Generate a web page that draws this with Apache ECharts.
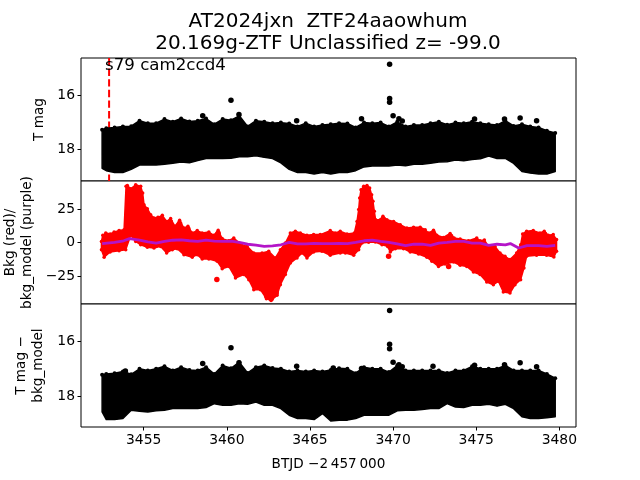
<!DOCTYPE html>
<html>
<head>
<meta charset="utf-8">
<script src="https://cdn.jsdelivr.net/npm/echarts@6/dist/echarts.min.js"></script>
<style>html,body{margin:0;background:#fff}#chart{width:640px;height:480px}</style>
</head>
<body>
<div id="chart"></div>
<script>
// columns of the light curve (BTJD - 2457000)
const times = [3452.5,3452.75,3453.25,3453.75,3454.25,3454.75,3455.25,3455.75,3456.25,3456.75,3457.25,3457.75,3458.25,3458.75,3459.25,3459.75,3460.25,3460.75,3461.25,3461.75,3462.25,3462.75,3463.25,3463.75,3464.25,3464.75,3465.25,3465.75,3466.25,3466.75,3467.25,3467.75,3468.25,3468.75,3469.25,3469.75,3470.25,3470.75,3471.25,3471.75,3472.25,3472.75,3473.25,3473.75,3474.25,3474.75,3475.25,3475.75,3476.25,3476.75,3477.25,3477.75,3478.25,3478.75,3479.25,3479.75]

// top panel: T mag
const magBright = [17.28,17.23,17.20,17.16,17.15,16.95,17.04,17.04,16.89,16.99,16.87,16.98,16.95,16.87,17.08,16.89,16.93,16.77,17.16,16.95,16.99,17.04,17.02,17.05,17.16,17.04,17.16,17.11,17.08,17.04,17.05,17.20,17.02,17.04,17.02,17.16,16.99,17.16,17.11,17.11,17.04,16.99,17.10,17.02,17.04,16.99,17.04,17.08,17.11,16.95,17.14,17.08,17.16,17.20,17.32,17.40]
const magFaint = [18.70,18.79,18.86,18.86,18.74,18.58,18.58,18.58,18.55,18.52,18.47,18.50,18.42,18.34,18.33,18.34,18.33,18.28,18.28,18.24,18.30,18.34,18.50,18.74,18.86,18.86,18.91,18.86,18.91,18.86,18.86,18.79,18.65,18.62,18.62,18.62,18.58,18.61,18.55,18.55,18.52,18.47,18.46,18.40,18.42,18.38,18.35,18.25,18.34,18.34,18.52,18.82,18.88,18.91,18.91,18.82]
const magOutT = [3460.25,3458.55,3460.73,3464.2,3469.79,3469.79,3469.79,3470.0,3470.35,3470.55,3477.64,3478.63,3476.7,3474.9,3468.1]
const magOutV = [16.20,16.77,16.72,16.95,14.87,16.13,16.27,16.77,16.88,16.96,16.85,16.95,16.89,16.89,16.88]

// middle panel: background (red) and background model (purple)
const bkgHighT = [3452.46,3452.54,3452.72,3452.98,3453.22,3453.52,3453.82,3453.94,3454.02,3454.22,3454.52,3454.82,3454.94,3455.02,3455.22,3455.42,3455.62,3455.86,3456.12,3456.38,3456.62,3456.88,3457.16,3457.42,3457.66,3457.92,3458.22,3458.52,3458.92,3459.22,3459.48,3459.72,3460.12,3460.42,3460.82,3461.22,3461.62,3462.12,3462.52,3462.92,3463.22,3463.52,3463.82,3464.12,3464.42,3464.82,3465.22,3465.62,3466.22,3466.52,3466.82,3467.23,3467.67,3467.83,3467.93,3467.99,3468.07,3468.23,3468.43,3468.59,3468.71,3468.79,3468.87,3468.95,3469.23,3469.39,3469.63,3470.03,3470.43,3470.83,3471.23,3471.63,3471.93,3472.13,3472.43,3472.63,3473.03,3473.43,3473.67,3474.03,3474.53,3475.03,3475.23,3475.49,3475.73,3476.13,3476.43,3476.73,3477.03,3477.43,3477.67,3477.79,3478.03,3478.43,3478.83,3479.09,3479.33,3479.63,3479.83]
const bkgHighV = [0.8,5.4,7.1,6.4,7.8,8.9,9.6,42,42.7,40.2,43.2,42,37,28.3,25.3,20.8,18.4,18.8,20.3,15.8,17.9,12.1,16.6,10.8,12.1,7.1,8.9,7.1,7.8,5.4,9.1,2.9,1.3,3.4,-1.1,-2.9,-7.8,-7.8,-6.6,-11.6,-5.4,-0.4,7.1,8.4,7.1,5.4,5.9,5.9,8.9,7.1,8.4,6.4,7.1,15.8,24.6,33.2,39.5,42,42.7,40.8,35.8,30.8,23.3,17,17,19.6,17,15.8,13.3,10.8,11.4,11.4,9.6,7.1,9.1,5.4,3.8,6.8,3.4,2.6,1.3,3.4,1.3,1.9,-2.9,-2.9,-7.8,-10.3,-12.8,-7.8,-1.7,6.4,8.4,8.9,7.1,8.4,5.4,5.9,2.2]
const bkgLowT = [3452.46,3452.62,3452.98,3453.52,3453.92,3454.22,3454.52,3454.82,3455.22,3455.62,3456.02,3456.38,3456.72,3457.02,3457.42,3457.92,3458.22,3458.52,3458.92,3459.42,3459.72,3460.12,3460.52,3461.02,3461.32,3461.62,3462.02,3462.38,3462.66,3463.02,3463.22,3463.52,3463.82,3464.22,3464.52,3464.82,3465.22,3465.72,3466.22,3466.82,3467.13,3467.63,3467.93,3468.13,3468.53,3468.93,3469.33,3469.67,3469.83,3470.13,3470.63,3471.03,3471.53,3472.03,3472.33,3472.73,3473.13,3473.63,3474.03,3474.43,3474.83,3475.23,3475.63,3476.03,3476.33,3476.63,3477.03,3477.33,3477.67,3477.87,3478.03,3478.63,3479.23,3479.67,3479.83]
const bkgLowV = [-5.4,-11,-7.1,-6.1,-5.4,5.4,0.8,-1.7,-3.6,-4.1,-2.9,-7.8,-5.4,-4.6,-9.1,-11,-9.1,-12.4,-12.4,-14,-19.6,-17.9,-26.5,-24,-27.8,-35.3,-35.3,-42,-43.4,-39.5,-31.6,-24,-15.4,-11.6,-7.8,-11.6,-7.1,-6.6,-9.6,-7.8,-7.8,-9.6,-5.4,-0.4,0.1,0.4,-1.7,-2.9,-7.1,-4.6,-4.6,-7.1,-8.6,-11,-14,-17.9,-16.1,-14.6,-17,-17.9,-22.1,-24,-29.5,-31.6,-29,-37,-37.8,-31.6,-27.8,-19.1,-10.3,-9.6,-9.6,-10.8,-6.6]
const bkgOutT = [3459.4,3469.73,3473.34,3462.4,3462.67,3462.97,3462.1,3473.46,3472.43,3479.1,3469.4,3456.6,3457.16,3457.66,3459.48]
const bkgOutV = [-27.6,-10.3,-17.9,-40.2,-42,-37.8,-33.2,4.6,6.9,6.4,17.5,15.6,14.3,10.1,6.9]
const modelTimes = [3452.5,3453.25,3453.8,3454.15,3454.75,3455.25,3455.75,3456.25,3456.75,3457.25,3457.75,3458.25,3458.75,3459.25,3459.75,3460.25,3460.75,3461.25,3461.75,3462.25,3462.75,3463.25,3463.75,3464.25,3464.75,3465.25,3465.75,3466.25,3466.75,3467.25,3467.75,3468.25,3468.75,3469.25,3469.75,3470.25,3470.75,3471.25,3471.75,3472.25,3472.75,3473.25,3473.75,3474.25,3474.75,3475.25,3475.75,3476.25,3476.75,3477.05,3477.55,3478.05,3478.75,3479.25,3479.75]
const modelVals = [-0.8,0.1,1.3,2.9,1.7,0.4,-0.4,0.8,1.7,1.9,1.3,0.8,1.7,1.1,0.8,1.1,0.1,-1.3,-1.9,-2.9,-2.6,-1.7,0.1,-1.1,-1.1,-0.6,-0.8,-0.8,-0.6,-0.8,0.1,1.3,1.7,0.8,0.1,-1.1,-2.4,-1.3,-1.3,-2.2,-0.4,0.1,0.8,0.8,-0.4,-0.4,-2.2,-1.3,-1.7,-0.8,-4.1,-2.4,-2.4,-2.9,-2.2]

// bottom panel: T mag - bkg_model
const subBright = [17.22,17.19,17.16,17.10,17.20,17.00,17.06,17.00,16.91,17.06,16.94,17.04,17.06,16.94,17.19,16.88,16.98,16.76,17.15,16.94,16.88,16.97,17.00,17.10,17.06,17.10,17.06,17.10,17.04,16.98,17.00,17.16,16.94,17.00,17.00,17.12,16.88,17.06,17.06,17.06,17.06,17.06,17.15,17.06,17.06,16.91,17.00,17.00,17.00,16.88,17.06,17.06,17.06,17.06,17.19,17.34]
const subFaint = [18.57,18.85,18.85,18.81,18.51,18.55,18.57,18.53,18.51,18.45,18.45,18.45,18.45,18.41,18.27,18.33,18.33,18.27,18.29,18.21,18.33,18.33,18.45,18.69,18.81,18.81,18.85,18.63,18.90,18.87,18.87,18.81,18.69,18.69,18.69,18.69,18.53,18.51,18.51,18.48,18.45,18.45,18.27,18.39,18.41,18.33,18.33,18.29,18.36,18.29,18.45,18.75,18.81,18.81,18.78,18.75]
const subOutT = [3460.25,3458.55,3460.73,3464.2,3466.4,3453.9,3469.79,3469.79,3469.79,3470.0,3470.35,3470.55,3477.64,3478.63,3476.7,3474.9,3472.4,3468.1]
const subOutV = [16.23,16.81,16.78,16.91,16.97,17.08,14.88,16.11,16.27,16.76,16.85,16.93,16.78,16.93,16.85,16.87,16.91,16.99]

const sectorLineT = 3452.92
const xTicks = [3455,3460,3465,3470,3475,3480]
const magTicks = [16,18]
const bkgTicks = [-25,0,25]

const FONT = 'DejaVu Sans'
const xRange = [3451.23, 3481.0]
const ranges = [[14.64, 19.17], [-46, 46], [14.64, 19.12]]
const tops = [58, 181, 304]

const pairs = (xs, ys) => xs.map((x, i) => [x, ys[i]])

// filled envelope of the dense points, scaled through the axes
function band (idx, hiX, hiY, loX, loY, color) {
  return {
    type: 'custom',
    xAxisIndex: idx,
    yAxisIndex: idx,
    clip: true,
    silent: true,
    z: 3,
    data: pairs(hiX, hiY),
    encode: { x: 0, y: 1 },
    renderItem (params, api) {
      if (params.dataIndex !== 0) return null
      const up = hiX.map((t, i) => api.coord([t, hiY[i]]))
      const down = loX.map((t, i) => api.coord([t, loY[i]])).reverse()
      return {
        type: 'polygon',
        shape: { points: up.concat(down) },
        style: { fill: color, stroke: color, lineWidth: 1.5, lineJoin: 'round' }
      }
    }
  }
}

function dots (idx, xs, ys, color, size) {
  return { type: 'scatter', xAxisIndex: idx, yAxisIndex: idx, symbolSize: size, z: 4, silent: true,
    itemStyle: { color: color, opacity: 1 }, data: pairs(xs, ys) }
}

// outerBoundsMode none: ECharts 6 would otherwise squeeze a grid to fit the two line names
const grids = tops.map(t => ({ left: 81, right: 64, top: t, height: 123, show: true, borderColor: '#000', borderWidth: 1, backgroundColor: '#fff', outerBoundsMode: 'none' }))

const xAxes = tops.map((t, i) => ({
  type: 'value', gridIndex: i, min: xRange[0], max: xRange[1],
  splitLine: { show: false },
  axisLine: { show: false },
  axisTick: { show: i === 2, length: 3.5, lineStyle: { color: '#000' }, customValues: xTicks },
  axisLabel: { show: i === 2, color: '#000', fontFamily: FONT, fontSize: 13.9, margin: 6, customValues: xTicks, formatter: v => String(v) },
  name: i === 2 ? 'BTJD \u22122\u2009457\u2009000' : '',
  nameLocation: 'middle', nameGap: 30, nameMoveOverlap: false,
  nameTextStyle: { color: '#000', fontFamily: FONT, fontSize: 13.6 }
}))

const yNames = ['T mag', 'Bkg (red)/\nbkg_model (purple)', 'T mag \u2212\nbkg_model']
const yGaps = [33.5, 45, 34.5]
const yAxes = tops.map((t, i) => {
  const ticks = i === 1 ? bkgTicks : magTicks
  return {
    type: 'value', gridIndex: i, min: ranges[i][0], max: ranges[i][1], inverse: i !== 1,
    splitLine: { show: false },
    axisLine: { show: false },
    axisTick: { length: 3.5, lineStyle: { color: '#000' }, customValues: ticks },
    axisLabel: { color: '#000', fontFamily: FONT, fontSize: 13.9, margin: 6, customValues: ticks, formatter: v => String(v).replace('-', '\u2212') },
    name: yNames[i],
    nameLocation: 'middle', nameGap: yGaps[i], nameRotate: 90, nameMoveOverlap: false,
    nameTextStyle: { color: '#000', fontFamily: FONT, fontSize: 13.6, lineHeight: 17 }
  }
})

const option = {
  animation: false,
  backgroundColor: '#fff',
  title: {
    text: 'AT2024jxn  ZTF24aaowhum\n20.169g-ZTF Unclassified z= -99.0',
    left: 323, top: 6, textAlign: 'center',
    textStyle: { color: '#000', fontFamily: FONT, fontSize: 20, fontWeight: 'normal', lineHeight: 22 }
  },
  grid: grids,
  xAxis: xAxes,
  yAxis: yAxes,
  graphic: [{
    type: 'text', left: 105, top: 57, z: 10,
    style: { text: 's79 cam2ccd4', fill: '#000', font: '16.67px "DejaVu Sans"' }
  }],
  series: [
    { type: 'line', xAxisIndex: 0, yAxisIndex: 0, z: 2, symbol: 'none', silent: true,
      lineStyle: { color: '#ff0000', width: 2, type: [7.4, 3.2] },
      data: [[sectorLineT, ranges[0][0]], [sectorLineT, ranges[0][1]]] },
    band(0, times, magBright, times, magFaint, '#000'),
    dots(0, times, magBright, '#000', 4),
    dots(0, magOutT, magOutV, '#000', 5.5),
    band(1, bkgHighT, bkgHighV, bkgLowT, bkgLowV, '#ff0000'),
    dots(1, bkgHighT, bkgHighV, '#ff0000', 3.5),
    dots(1, bkgLowT, bkgLowV, '#ff0000', 3.5),
    dots(1, bkgOutT, bkgOutV, '#ff0000', 5.5),
    { type: 'line', xAxisIndex: 1, yAxisIndex: 1, z: 5, symbol: 'none', silent: true,
      lineStyle: { color: '#b414c8', width: 2.8 }, data: pairs(modelTimes, modelVals) },
    band(2, times, subBright, times, subFaint, '#000'),
    dots(2, times, subBright, '#000', 4),
    dots(2, subOutT, subOutV, '#000', 5.5)
  ]
}

const myChart = echarts.init(document.getElementById('chart'), null, { renderer: 'canvas' })
myChart.setOption(option)
</script>
</body>
</html>
